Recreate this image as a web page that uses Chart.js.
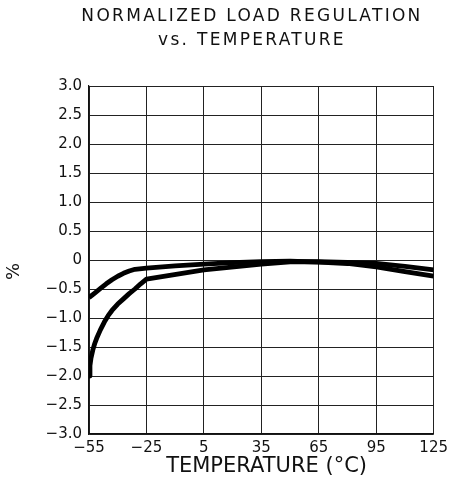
<!DOCTYPE html>
<html>
<head>
<meta charset="utf-8">
<script src="https://cdn.jsdelivr.net/npm/chart.js@4"></script>
<style>
  html, body { margin: 0; padding: 0; background: #fff; }
  #wrap { position: relative; width: 453px; height: 487px; }
  #title {
    position: absolute; left: 52px; top: 3px; width: 400px;
    text-align: center; font-family: "DejaVu Sans", sans-serif;
    font-size: 17px; line-height: 24px; letter-spacing: 2.3px; color: #111;
  }
</style>
</head>
<body>
<div id="wrap">
  <div id="title">NORMALIZED LOAD REGULATION<br>vs. TEMPERATURE</div>
  <canvas id="myChart" width="453" height="487"></canvas>
</div>
<script>
// values
const xTicks = [-55, -25, 5, 35, 65, 95, 125];
const yTicks = [-3, -2.5, -2, -1.5, -1, -0.5, 0, 0.5, 1, 1.5, 2, 2.5, 3];

// upper curve (starts at about -0.65 %)
const tempsUpper = [-55, -52, -49, -46, -43, -40, -37, -34, -31, -25, -10, 5, 20, 35, 50, 65, 80, 95, 110, 125];
const loadUpper = [-0.65, -0.57, -0.49, -0.41, -0.34, -0.28, -0.23, -0.19, -0.16, -0.14, -0.1, -0.07, -0.045, -0.03, -0.02, -0.035, -0.06, -0.12, -0.2, -0.28];

// lower curve (starts at about -2.0 %)
const tempsLower = [-55, -54.5, -54, -53, -52, -51, -49, -47, -45, -43, -40, -37, -34, -31, -28, -25, 5, 35, 50, 65, 80, 95, 110, 125];
const loadLower = [-2.0, -1.82, -1.7, -1.55, -1.44, -1.35, -1.2, -1.07, -0.96, -0.87, -0.76, -0.67, -0.58, -0.5, -0.41, -0.33, -0.17, -0.07, -0.03, -0.03, -0.04, -0.06, -0.11, -0.17];

const toPoints = (xs, ys) => xs.map((x, i) => ({ x: x, y: ys[i] }));

const fmtNum = v => v === 0 ? '0' : (v < 0 ? '\u2212' : '') + Math.abs(v);
const fmtY = v => v === 0 ? '0' : (v < 0 ? '\u2212' : '') + Math.abs(v).toFixed(1);

const lineStyle = {
    borderColor: '#000',
    borderWidth: 4.8,
    borderJoinStyle: 'round',
    pointRadius: 0,
    fill: false,
    tension: 0
};

const ctx = document.getElementById('myChart').getContext('2d');

const myChart = new Chart(ctx, {
    type: 'line',
    data: {
        datasets: [
            Object.assign({ label: 'upper', data: toPoints(tempsUpper, loadUpper) }, lineStyle),
            Object.assign({ label: 'lower', data: toPoints(tempsLower, loadLower) }, lineStyle)
        ]
    },
    options: {
        responsive: false,
        animation: false,
        layout: { padding: { top: 86, right: 15, left: 0, bottom: 0 } },
        plugins: {
            legend: { display: false },
            tooltip: { enabled: false }
        },
        scales: {
            x: {
                type: 'linear',
                min: -55,
                max: 125,
                afterBuildTicks: s => { s.ticks = xTicks.map(v => ({ value: v })); },
                afterFit: s => { s.height = 53; },
                grid: { color: '#222', lineWidth: 1, drawTicks: false },
                border: { color: '#111', width: 1.2 },
                ticks: {
                    padding: 5,
                    color: '#111',
                    maxRotation: 0,
                    font: { family: 'DejaVu Sans', size: 15 },
                    callback: v => fmtNum(v)
                },
                title: {
                    display: true,
                    text: '\u2002TEMPERATURE (\u00B0C)',
                    color: '#111',
                    padding: { top: 0, bottom: 8 },
                    font: { family: 'DejaVu Sans', size: 21 }
                }
            },
            y: {
                min: -3,
                max: 3,
                afterBuildTicks: s => { s.ticks = yTicks.map(v => ({ value: v })); },
                afterFit: s => { s.width = 89; },
                grid: { color: '#222', lineWidth: 1, drawTicks: false },
                border: { color: '#111', width: 1.2 },
                ticks: {
                    padding: 7,
                    color: '#111',
                    font: { family: 'DejaVu Sans', size: 15 },
                    callback: v => fmtY(v)
                },
                title: {
                    display: true,
                    text: '%    ',
                    color: '#111',
                    padding: { top: 4, bottom: 0 },
                    font: { family: 'DejaVu Sans', size: 18 }
                }
            }
        }
    }
});
</script>
</body>
</html>
